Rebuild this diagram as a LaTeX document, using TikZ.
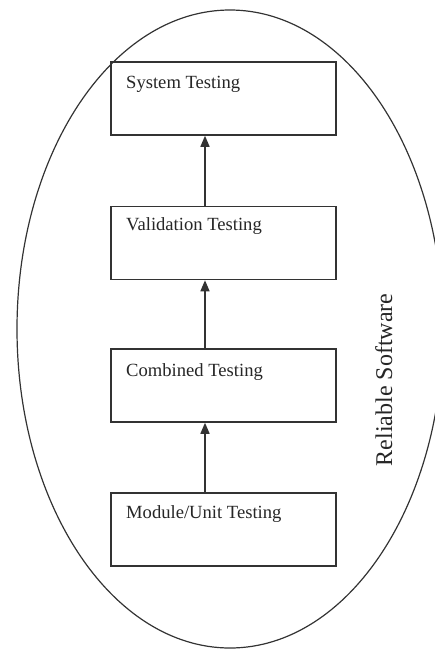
\documentclass[tikz,border=0pt]{standalone}
\usepackage{fontspec}
\setmainfont{Liberation Serif}
\usetikzlibrary{arrows.meta}
\definecolor{ink}{HTML}{333333}
\tikzset{
  stagebox/.style={draw=ink, line width=1.5pt, rectangle, minimum width=225pt, minimum height=73pt, inner sep=0pt},
  stagetext/.style={anchor=base west, inner sep=0pt, font=\fontsize{18.6pt}{20pt}\selectfont, text=black!85},
  uparrow/.style={draw=ink, line width=1.5pt, -{Triangle[width=9pt,length=11pt]}},
  outline/.style={draw=ink, line width=1.2pt}
}
\begin{document}
\begin{tikzpicture}[x=1pt,y=-1pt]
\useasboundingbox (0,0) rectangle (435,649);
\begin{scope}
\clip (0,0) rectangle (435,649);
\draw[outline] (230,329) ellipse [x radius=213pt, y radius=319pt];
\end{scope}
\node[stagebox] (sys) at (223.5,98.5) {};
\node[stagebox] (val) at (223.5,243) {};
\node[stagebox] (com) at (223.5,385.5) {};
\node[stagebox] (mod) at (223.5,529.5) {};
\node[stagetext] (tsys) at (126,88) {System Testing};
\node[stagetext] (tval) at (126,230) {Validation Testing};
\node[stagetext] (tcom) at (126,376) {Combined Testing};
\node[stagetext] (tmod) at (126,518) {Module/Unit Testing};
\draw[uparrow] ([xshift=-18.5pt]val.north) -- ([xshift=-18.5pt]sys.south);
\draw[uparrow] ([xshift=-18.5pt]com.north) -- ([xshift=-18.5pt]val.south);
\draw[uparrow] ([xshift=-18.5pt]mod.north) -- ([xshift=-18.5pt]com.south);
\node[rotate=90, anchor=base, inner sep=0pt, font=\fontsize{24pt}{26pt}\selectfont, text=black!85] (rel) at (392,380) {Reliable Software};
\end{tikzpicture}
\end{document}
